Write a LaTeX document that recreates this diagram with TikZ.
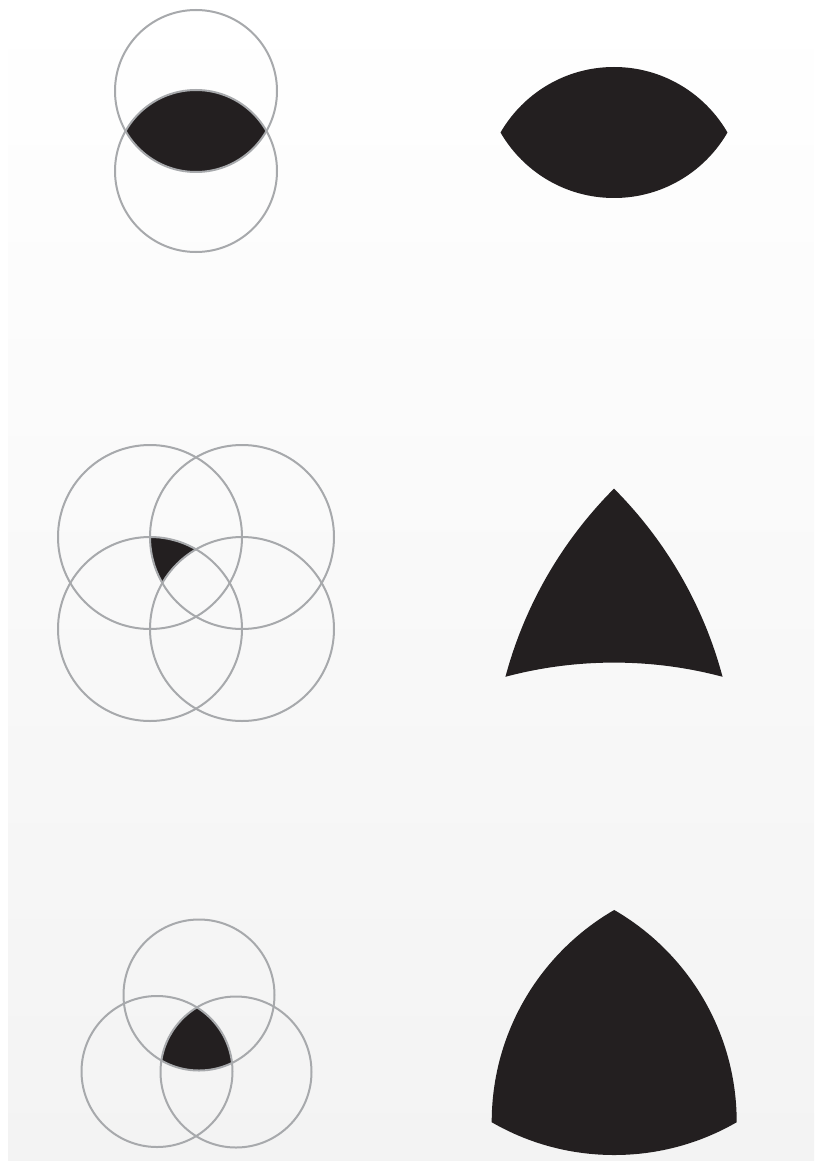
\documentclass[tikz,border=0pt]{standalone}
\usetikzlibrary{calc}
\definecolor{ink}{HTML}{231F20}
\definecolor{ring}{HTML}{A7A9AC}
\definecolor{bgmid}{HTML}{F6F8F8}
\definecolor{bgbot}{HTML}{F3F3F3}
\begin{document}
\begin{tikzpicture}[x=1pt,y=-1pt,
  ringline/.style={draw=ring,line width=2pt},
  inkfill/.style={fill=ink}]
\useasboundingbox (0,0) rectangle (814,1161);
\fill[white] (0,0) rectangle (814,1161);
\shade[top color=white, middle color=bgmid, bottom color=bgbot] (8,0) rectangle (814,1161);

% ---------- row 1 : lens ----------
\coordinate (a1) at (196,91);
\coordinate (a2) at (196,171);
\begin{scope}
  \clip (a1) circle (81pt);
  \fill[inkfill] (a2) circle (81pt);
\end{scope}
\draw[ringline] (a1) circle (81pt);
\draw[ringline] (a2) circle (81pt);

\coordinate (b1) at (614,67);
\coordinate (b2) at (614,198);
\begin{scope}
  \clip (b1) circle (131pt);
  \fill[inkfill] (b2) circle (131pt);
\end{scope}

% ---------- row 2 : four circles ----------
\coordinate (tl) at (150,537);
\coordinate (tr) at (242,537);
\coordinate (bl) at (150,629);
\coordinate (br) at (242,629);
\begin{scope}
  \clip (tr) circle (92pt);
  \clip (bl) circle (92pt);
  \fill[inkfill, even odd rule] (0,0) rectangle (814,1161) (br) circle (92pt);
\end{scope}
\foreach \c in {tl,tr,bl,br} \draw[ringline] (\c) circle (92pt);

\coordinate (m1) at (911.3,785.3);
\coordinate (m2) at (316.7,785.3);
\coordinate (m3) at (614,1082.6);
\begin{scope}
  \clip (m1) circle (420pt);
  \clip (m2) circle (420pt);
  \fill[inkfill, even odd rule] (0,0) rectangle (814,1161) (m3) circle (420pt);
\end{scope}

% ---------- row 3 : three circles ----------
\coordinate (ta) at (199,995);
\coordinate (la) at (157,1071.5);
\coordinate (ra) at (236,1072);
\begin{scope}
  \clip (ta) circle (75.5pt);
  \clip (la) circle (75.5pt);
  \fill[inkfill] (ra) circle (75.5pt);
\end{scope}
\foreach \c in {ta,la,ra} \draw[ringline] (\c) circle (75.5pt);

\coordinate (r1) at (614.2,910);
\coordinate (r2) at (491.7,1122.2);
\coordinate (r3) at (736.7,1122.2);
\begin{scope}
  \clip (r1) circle (245pt);
  \clip (r2) circle (245pt);
  \fill[inkfill] (r3) circle (245pt);
\end{scope}
\end{tikzpicture}
\end{document}
